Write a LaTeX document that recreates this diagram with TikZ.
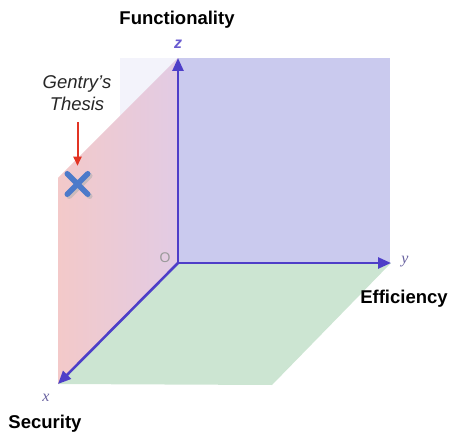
\documentclass[tikz,border=0pt]{standalone}
\usepackage{fontspec}
\setmainfont{Liberation Sans}
\newfontfamily\axisfont{Liberation Serif}
\usetikzlibrary{arrows.meta,shapes.misc}
\definecolor{axisblue}{RGB}{78,62,200}
\definecolor{planeblue}{RGB}{202,202,238}
\definecolor{planegreen}{RGB}{204,229,210}
\definecolor{planered}{RGB}{243,201,201}
\definecolor{planemauve}{RGB}{226,203,228}
\definecolor{markred}{RGB}{226,52,36}
\definecolor{markblue}{RGB}{76,122,202}
\tikzset{
  axis/.style={draw=axisblue, line width=2.6pt,
    -{Triangle[length=13pt,width=11pt]}},
  title label/.style={font=\fontsize{18.5}{20}\selectfont\bfseries,
    inner sep=0pt},
  axis letter/.style={font=\fontsize{16}{18}\selectfont\axisfont\itshape,
    text=axisblue!45!gray, inner sep=0pt},
  note/.style={font=\fontsize{18.5}{22}\selectfont\itshape, align=center,
    text=black!85, inner sep=0pt},
  cross mark/.style={cross out, draw=#1, line width=5.5pt, line cap=round,
    minimum size=15pt, inner sep=0pt},
  cross mark/.default=markblue,
  mark arrow/.style={draw=markred, line width=2pt,
    -{Triangle[length=9pt,width=8pt]}}
}

\begin{document}
\begin{tikzpicture}[x=1pt,y=-1pt]
\useasboundingbox (0,0) rectangle (452,438);

% axes end points
\coordinate (O) at (178,263);
\coordinate (xend) at (58,384);
\coordinate (yend) at (391,263);
\coordinate (zend) at (178,58);

% planes
\fill[planeblue!22] (120,58) rectangle (178,263);
\fill[planeblue] (zend) rectangle (390,263);
\fill[planegreen] (O) -- (yend) -- (272,385) -- (xend) -- cycle;
\shade[left color=planered, right color=planemauve]
  (xend) -- (58,178) -- (zend) -- (O) -- cycle;

% axes
\draw[axis] (O) -- (zend);
\draw[axis] (O) -- (yend);
\draw[axis] (O) -- (xend);

\node[axis letter, font=\fontsize{16}{18}\selectfont\bfseries\itshape,
  text=axisblue!85] (zlab) at (178,44) {z};
\node[axis letter] (ylab) at (405,262) {y};
\node[axis letter] (xlab) at (46,398) {x};
\node[font=\fontsize{14}{15}\selectfont, text=gray!80, inner sep=0pt]
  (olab) at (165,258) {O};

% labels
\node[title label] (functionality) at (177,20) {Functionality};
\node[title label] (efficiency) at (404,299) {Efficiency};
\node[title label] (security) at (45,424) {Security};

% thesis marker
\node[note] (thesis) at (77,93) {Gentry’s\\Thesis};
\node[cross mark=black!30, opacity=0.6] (shadow) at (79.5,186) {};
\node[cross mark] (gentry) at (77.5,184) {};
\coordinate (arrowtop) at (77.5,122);
\draw[mark arrow, shorten >=8pt] (arrowtop) -- (gentry.north);
\end{tikzpicture}
\end{document}
